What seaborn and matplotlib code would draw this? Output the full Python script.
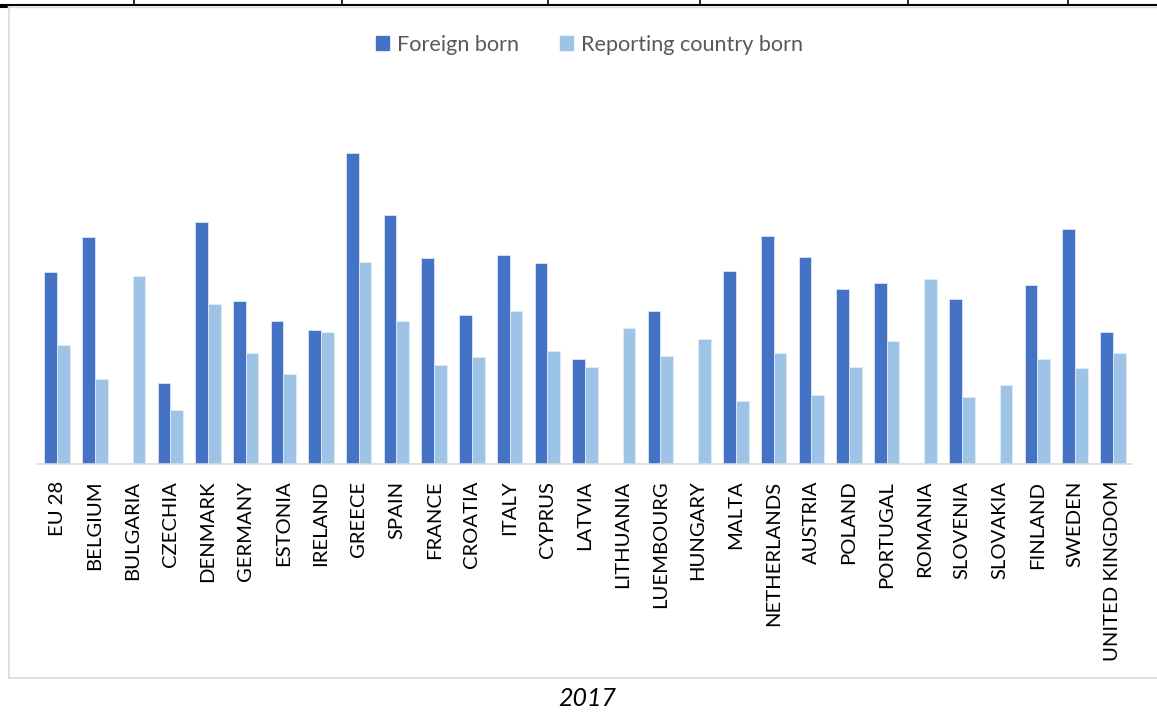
import numpy as np
import pandas as pd
import matplotlib
matplotlib.use("Agg")
import matplotlib.pyplot as plt
from matplotlib.patches import Rectangle
from matplotlib.lines import Line2D
import seaborn as sns

countries = ["EU 28", "BELGIUM", "BULGARIA", "CZECHIA", "DENMARK", "GERMANY",
             "ESTONIA", "IRELAND", "GREECE", "SPAIN", "FRANCE", "CROATIA",
             "ITALY", "CYPRUS", "LATVIA", "LITHUANIA", "LUEMBOURG", "HUNGARY",
             "MALTA", "NETHERLANDS", "AUSTRIA", "POLAND", "PORTUGAL", "ROMANIA",
             "SLOVENIA", "SLOVAKIA", "FINLAND", "SWEDEN", "UNITED KINGDOM"]

foreign_born = [19.2, 22.7, np.nan, 8.1, 24.2, 16.3,
                14.3, 13.4, 31.1, 24.9, 20.6, 14.9,
                20.9, 20.1, 10.5, np.nan, 15.3, np.nan,
                19.3, 22.8, 20.7, 17.5, 18.1, np.nan,
                16.5, np.nan, 17.9, 23.5, 13.2]

reporting_born = [11.9, 8.5, 18.8, 5.4, 16.0, 11.1,
                  9.0, 13.2, 20.2, 14.3, 9.9, 10.7,
                  15.3, 11.3, 9.7, 13.6, 10.8, 12.5,
                  6.3, 11.1, 6.9, 9.7, 12.3, 18.5,
                  6.7, 7.9, 10.5, 9.6, 11.1]

series_names = ["Foreign born", "Reporting country born"]
year_label = "2017"

df = pd.DataFrame({
    "country": countries * 2,
    "value": foreign_born + reporting_born,
    "group": [series_names[0]] * len(countries) + [series_names[1]] * len(countries),
})

sns.set_style("white")
plt.rcParams["font.family"] = ["Lato", "DejaVu Sans"]

W, H = 1157, 713
fig = plt.figure(figsize=(W / 100, H / 100), dpi=100)

# plot area in pixel coordinates
ax_left, ax_right, ax_bottom, ax_top = 38.3, 1131.7, 464, 100
ax = fig.add_axes([ax_left / W, 1 - ax_bottom / H,
                   (ax_right - ax_left) / W, (ax_bottom - ax_top) / H])

palette = {series_names[0]: "#4472C4", series_names[1]: "#9DC3E6"}
sns.barplot(data=df, x="country", y="value", hue="group", order=countries,
            hue_order=series_names, palette=palette, width=0.674,
            saturation=1, edgecolor="#E8EEF8", linewidth=0.5, ax=ax,
            legend=False)

ax.set_ylim(0, (ax_bottom - ax_top) / 10)
ax.set_xlim(-0.5, len(countries) - 0.5)
ax.set_xlabel("")
ax.set_ylabel("")
ax.set_yticks([])
for s in ["top", "left", "right"]:
    ax.spines[s].set_visible(False)
ax.spines["bottom"].set_color("#D9D9D9")
ax.spines["bottom"].set_linewidth(1.2)
ax.tick_params(axis="x", length=0, pad=12, labelsize=14.6, labelcolor="#000000",
               labelrotation=90)

# legend
handles = [Rectangle((0, 0), 1, 1, color=palette[n]) for n in series_names]
leg = fig.legend(handles, series_names, loc="center", ncol=2, frameon=False,
                 bbox_to_anchor=(589.5 / W, 1 - 45 / H),
                 fontsize=15.6, handlelength=0.6, handleheight=0.6,
                 handletextpad=0.35, columnspacing=1.9, labelcolor="#595959")

# year caption
fig.text(587 / W, 1 - 698 / H, year_label, ha="center", va="center",
         fontsize=18, style="italic", color="#000000")

# chart frame
fig.add_artist(Line2D([9 / W, 9 / W], [1 - 6 / H, 1 - 678 / H], color="#D9D9D9",
                      lw=1.2, transform=fig.transFigure))
fig.add_artist(Line2D([9 / W, 1], [1 - 678 / H, 1 - 678 / H], color="#D9D9D9",
                      lw=1.2, transform=fig.transFigure))
fig.add_artist(Line2D([9 / W, 1], [1 - 7 / H, 1 - 7 / H], color="#D9D9D9",
                      lw=1.0, transform=fig.transFigure))

# table rule above the chart
fig.add_artist(Line2D([0, 1], [1 - 5 / H, 1 - 5 / H], color="#000000",
                      lw=1.5, transform=fig.transFigure))
for xp in [134, 342, 548, 700, 908, 1068]:
    fig.add_artist(Line2D([xp / W, xp / W], [1, 1 - 5 / H], color="#000000",
                          lw=1.2, transform=fig.transFigure))
fig.add_artist(Line2D([0, 7 / W], [1 - 6.5 / H, 1 - 6.5 / H], color="#000000",
                      lw=1.5, transform=fig.transFigure))

fig.savefig("out.png", dpi=100, facecolor="white")
